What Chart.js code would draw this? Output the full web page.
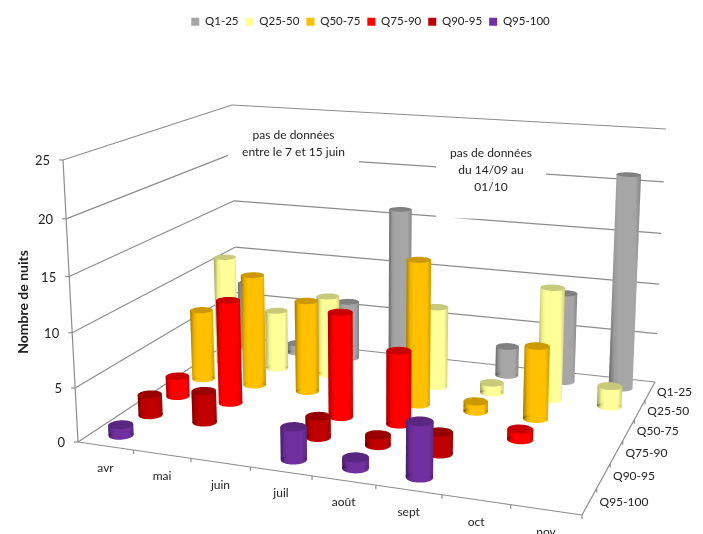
<!DOCTYPE html>
<html lang="fr">
<head>
<meta charset="utf-8">
<title>Nombre de nuits par mois</title>
<script src="https://cdn.jsdelivr.net/npm/chart.js@4/dist/chart.umd.min.js"></script>
<style>
  html, body { margin: 0; padding: 0; background: #fff; }
  canvas { display: block; }
</style>
</head>
<body>
<canvas id="nuitsChart" width="703" height="534"></canvas>
<script>
// Données
const months = ['avr', 'mai', 'juin', 'juil', 'août', 'sept', 'oct', 'nov'];
const seriesNames = ['Q1-25', 'Q25-50', 'Q50-75', 'Q75-90', 'Q90-95', 'Q95-100'];
const q1to25 = [7, 1, 6, 16, 0, 3, 9, 21];
const q25to50 = [11, 6, 8, 0, 8, 1, 11, 2];
const q50to75 = [7, 11, 9, 0, 14, 1, 7, 0];
const q75to90 = [2, 10, 0, 10, 7, 0, 1, 0];
const q90to95 = [2, 3, 0, 2, 1, 2, 0, 0];
const q95to100 = [1, 0, 0, 3, 1, 5, 0, 0];
const seriesValues = [q1to25, q25to50, q50to75, q75to90, q90to95, q95to100];
const yTitle = 'Nombre de nuits';
const noteJuin = ['pas de données', 'entre le 7 et 15 juin'];
const noteSept = ['pas de données', 'du 14/09 au', '01/10'];

// Couleurs : corps, dessus du cylindre
const bodyColors = ['#A6A6A6', '#FFFF99', '#FFC000', '#FF0000', '#C00000', '#7030A0'];
const topColors = ['#808080', '#C9C97C', '#CC9A00', '#C80000', '#990000', '#592680'];

// Boîte 3D : coins du sol et décalage vers le plan z = max, en pixels
const floorBox = [[78, 442], [582, 515], [655, 382], [237, 337]];
const riseBox = [[-15, -282], [10, -303], [11, -253], [-5, -232]];
const RADIUS = 0.2;
const AXIS_COLOR = '#8c8c8c';
const TEXT_COLOR = '#222';
const FONT = 'Lato, "Open Sans", sans-serif';

// Homographie carré unité -> quadrilatère
function makeHomography(q) {
  const [[x0, y0], [x1, y1], [x2, y2], [x3, y3]] = q;
  const dx1 = x1 - x2, dx2 = x3 - x2, sx = x0 - x1 + x2 - x3;
  const dy1 = y1 - y2, dy2 = y3 - y2, sy = y0 - y1 + y2 - y3;
  const det = dx1 * dy2 - dx2 * dy1;
  const g = (sx * dy2 - dx2 * sy) / det;
  const h = (dx1 * sy - sx * dy1) / det;
  const a = x1 - x0 + g * x1, b = x3 - x0 + h * x3;
  const d = y1 - y0 + g * y1, e = y3 - y0 + h * y3;
  return (s, t) => {
    const w = g * s + h * t + 1;
    return [(a * s + b * t + x0) / w, (d * s + e * t + y0) / w];
  };
}
const floorMap = makeHomography(floorBox);

// s : le long des mois, t : profondeur (0 devant), f : hauteur 0..1
function project(s, t, f) {
  const p0 = floorMap(s, t);
  const k = f / (1 + 0.055 * (1 - f));
  const rise = axis =>
    riseBox[0][axis] * (1 - s) * (1 - t) + riseBox[1][axis] * s * (1 - t) +
    riseBox[2][axis] * s * t + riseBox[3][axis] * (1 - s) * t;
  return [p0[0] + rise(0) * k, p0[1] + rise(1) * k];
}

function heightOf(yScale, value) {
  return (yScale.bottom - yScale.getPixelForValue(value)) / yScale.height;
}

function shade(ctx, x0, x1) {
  const grad = ctx.createLinearGradient(x0, 0, x1, 0);
  grad.addColorStop(0, 'rgba(0,0,0,0.38)');
  grad.addColorStop(0.16, 'rgba(0,0,0,0.08)');
  grad.addColorStop(0.3, 'rgba(0,0,0,0)');
  grad.addColorStop(0.82, 'rgba(0,0,0,0)');
  grad.addColorStop(1, 'rgba(0,0,0,0.2)');
  return grad;
}

function circlePoints(s, t, f, rs, rt) {
  const pts = [];
  for (let a = 0; a < 48; a++) {
    const ang = (a / 48) * Math.PI * 2;
    pts.push(project(s + Math.cos(ang) * rs, t + Math.sin(ang) * rt, f));
  }
  return pts;
}

function fillPoly(ctx, pts, fill) {
  ctx.beginPath();
  pts.forEach((p, i) => (i ? ctx.lineTo(p[0], p[1]) : ctx.moveTo(p[0], p[1])));
  ctx.closePath();
  ctx.fillStyle = fill;
  ctx.fill();
}

// Contrôleur : cylindres en perspective, placés par les échelles du graphique
class CylinderController extends Chart.BarController {
  draw() {
    const { ctx, scales } = this.chart;
    const xScale = scales.x, yScale = scales.y;
    const row = seriesNames.length - 1 - this.index;
    const t = (row + 0.5) / seriesNames.length;
    const rs = RADIUS / months.length, rt = RADIUS / seriesNames.length;
    const data = this.getDataset().data;
    const body = bodyColors[this.index], cap = topColors[this.index];

    data.forEach((value, i) => {
      if (!value) return;
      const s = (xScale.getPixelForValue(i) - xScale.left) / xScale.width;
      const f = heightOf(yScale, value);
      const base = circlePoints(s, t, 0, rs, rt);
      const top = circlePoints(s, t, f, rs, rt);
      const extreme = (pts, sign) => pts.reduce((m, p) => (sign * p[0] > sign * m[0] ? p : m));
      const bl = extreme(base, -1), br = extreme(base, 1);
      const tl = extreme(top, -1), tr = extreme(top, 1);
      const x0 = Math.min(bl[0], tl[0]), x1 = Math.max(br[0], tr[0]);

      ctx.save();
      [body, shade(ctx, x0, x1)].forEach(fill => {
        fillPoly(ctx, base, fill);
        fillPoly(ctx, [tl, tr, br, bl], fill);
      });
      fillPoly(ctx, top, cap);
      ctx.restore();
    });
  }
}
CylinderController.id = 'cylinder';
CylinderController.defaults = Chart.BarController.defaults;
CylinderController.overrides = Chart.BarController.overrides;
Chart.register(CylinderController);

function line(ctx, a, b) {
  ctx.beginPath();
  ctx.moveTo(a[0], a[1]);
  ctx.lineTo(b[0], b[1]);
  ctx.stroke();
}

// Parois, sol, graduations et libellés
const boxPlugin = {
  id: 'box3d',
  beforeDatasetsDraw(chart) {
    const { ctx, scales } = chart;
    const yScale = scales.y;
    ctx.save();
    ctx.strokeStyle = AXIS_COLOR;
    ctx.lineWidth = 1.2;

    // lignes de la grille sur les deux parois
    yScale.ticks.forEach(tick => {
      const f = heightOf(yScale, tick.value);
      const a = project(0, 0, f), b = project(0, 1, f), c = project(1, 1, f);
      line(ctx, a, b);
      line(ctx, b, c);
      line(ctx, [a[0] - 4, a[1]], a);
      ctx.fillStyle = TEXT_COLOR;
      ctx.font = '13px ' + FONT;
      ctx.textAlign = 'right';
      ctx.textBaseline = 'middle';
      ctx.fillText(tick.label, a[0] - 13, a[1] + 1);
    });

    // arêtes
    line(ctx, project(0, 0, 0), project(0, 0, 1));
    line(ctx, project(0, 0, 0), project(1, 0, 0));
    line(ctx, project(1, 0, 0), project(1, 1, 0));

    ctx.font = '12px ' + FONT;
    ctx.fillStyle = TEXT_COLOR;
    ctx.textBaseline = 'middle';

    // mois le long de l'arête avant
    ctx.textAlign = 'center';
    months.forEach((m, i) => {
      const tickPos = project((i + 1) / months.length, 0, 0);
      if (i < months.length - 1) line(ctx, tickPos, [tickPos[0], tickPos[1] + 4]);
      const p = project((i + 0.5) / months.length, 0, 0);
      ctx.fillText(m, p[0], p[1] + 22);
    });

    // quantiles le long de l'arête droite
    ctx.textAlign = 'left';
    seriesNames.forEach((name, i) => {
      const row = seriesNames.length - 1 - i;
      const tickPos = project(1, row / seriesNames.length, 0);
      line(ctx, tickPos, [tickPos[0], tickPos[1] + 4]);
      const p = project(1, (row + 0.5) / seriesNames.length, 0);
      ctx.fillText(name, p[0] + 10 - row * 0.6, p[1] + 1);
    });

    // titre de l'axe
    ctx.save();
    ctx.translate(23, 302);
    ctx.rotate(-Math.PI / 2);
    ctx.textAlign = 'center';
    ctx.font = 'bold 14px ' + FONT;
    ctx.fillText(yTitle, 0, 0);
    ctx.restore();
    ctx.restore();
  },
  afterDatasetsDraw(chart) {
    const { ctx } = chart;
    const note = (x0, y0, x1, y1, lines) => {
      ctx.fillStyle = '#fff';
      ctx.fillRect(x0, y0, x1 - x0, y1 - y0);
      ctx.fillStyle = TEXT_COLOR;
      ctx.font = '12px ' + FONT;
      ctx.textAlign = 'center';
      ctx.textBaseline = 'middle';
      lines.forEach((l, i) => ctx.fillText(l, (x0 + x1) / 2, y0 + 15 + i * 17));
    };
    note(228, 120, 359, 172, noteJuin);
    note(436, 138, 546, 218.5, noteSept);
  }
};

// Graphique
new Chart(document.getElementById('nuitsChart').getContext('2d'), {
  type: 'cylinder',
  data: {
    labels: months,
    datasets: seriesNames.map((name, i) => ({
      label: name,
      data: seriesValues[i],
      order: seriesNames.length - i,
      backgroundColor: bodyColors[i],
      borderWidth: 0
    }))
  },
  options: {
    responsive: false,
    animation: false,
    layout: { padding: { top: 9, left: 38 } },
    scales: {
      x: { type: 'category', offset: true, display: false },
      y: { type: 'linear', min: 0, max: 25, ticks: { stepSize: 5 }, display: false }
    },
    plugins: {
      tooltip: { enabled: false },
      legend: {
        position: 'top',
        reverse: true,
        labels: {
          boxWidth: 8,
          boxHeight: 8,
          padding: 7,
          color: TEXT_COLOR,
          font: { family: FONT, size: 11.5 }
        }
      }
    }
  },
  plugins: [boxPlugin]
});
</script>
</body>
</html>
